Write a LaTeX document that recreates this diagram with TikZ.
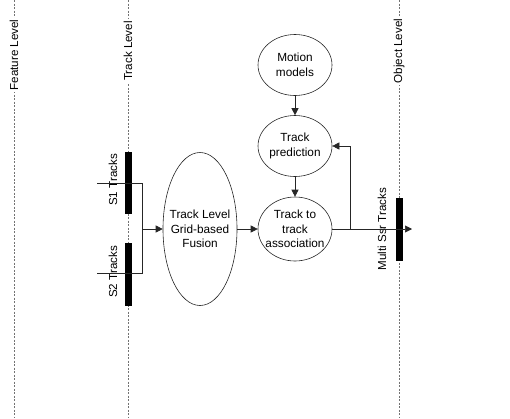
\documentclass[tikz,border=0pt]{standalone}
\usepackage{fontspec}
\setmainfont{Liberation Sans}
\usetikzlibrary{shapes.geometric,arrows.meta}
\begin{document}
\begin{tikzpicture}[x=1pt,y=-1pt,
 lvl/.style={draw=black!55, dash pattern=on 2pt off 1.5pt, line width=0.7pt},
 lbl/.style={rotate=90, fill=white, inner sep=2pt, font=\fontsize{11.6}{13}\selectfont},
 slbl/.style={rotate=90, inner sep=0pt, font=\fontsize{11.6}{13}\selectfont},
 proc/.style={ellipse, draw=black!85, line width=0.6pt, minimum width=74pt, minimum height=61pt, inner xsep=-5pt, inner ysep=0pt, align=center, font=\fontsize{11.8}{14.5}\selectfont},
 bar/.style={fill=black, minimum width=7pt, inner sep=0pt},
 conn/.style={line width=0.6pt, draw=black!85},
 arr/.style={conn, -{Triangle[length=7pt,width=7pt]}}
]
\useasboundingbox (0,0) rectangle (510,418);
% level lines
\draw[lvl] (14,0) -- (14,418);
\draw[lvl] (128,0) -- (128,418);
\draw[lvl] (399,0) -- (399,418);
\node[lbl] (fl) at (14,55) {Feature Level};
\node[lbl] (tl) at (128,51) {Track Level};
\node[lbl] (ol) at (399,51) {Object Level};
% bars
\node[bar, minimum height=62pt] (b1) at (128,183) {};
\node[bar, minimum height=63pt] (b2) at (128,274.5) {};
\node[bar, minimum height=63pt] (b3) at (399,229.5) {};
\node[slbl] (s1l) at (113,180) {S1 Tracks};
\node[slbl] (s2l) at (113,272) {S2 Tracks};
\node[slbl] (ml) at (382,229) {Multi Ssr Tracks};
% process nodes
\node[proc, minimum width=74pt, minimum height=153pt] (fus) at (200,229) {Track Level\\Grid-based\\Fusion};
\node[proc] (mot) at (295,65) {Motion\\models};
\node[proc] (pred) at (295,146) {Track\\prediction};
\node[proc, minimum height=64pt] (assoc) at (295,229) {Track to\\track\\association};
% connectors
\coordinate (s1in) at (97,183);
\coordinate (s2in) at (97,273);
\coordinate (j1) at (142,183);
\coordinate (j2) at (142,273);
\coordinate (jm) at (142,229);
\draw[conn] (s1in) -- (j1) -- (j2) -- (s2in);
\draw[arr] (jm) -- (fus.west);
\draw[arr] (mot) -- (pred);
\draw[arr] (pred) -- (assoc);
\draw[arr] (fus.east) -- (assoc.west);
\coordinate (out) at (412,229);
\draw[arr] (assoc.east) -- (out);
\coordinate (fb) at (350,229);
\draw[arr] (fb) |- (pred.east);
\end{tikzpicture}
\end{document}
